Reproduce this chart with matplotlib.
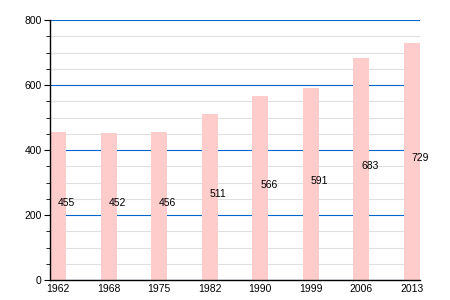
import matplotlib
matplotlib.use("Agg")
import matplotlib.pyplot as plt
from matplotlib.ticker import MultipleLocator

years = ["1962", "1968", "1975", "1982", "1990", "1999", "2006", "2013"]
population = [455, 452, 456, 511, 566, 591, 683, 729]

plt.rcParams['font.family'] = ['Liberation Sans', 'DejaVu Sans']

fig = plt.figure(figsize=(4.5, 3), dpi=100)
ax = fig.add_axes([50/450, 20/300, 370/450, 260/300])

w = 0.32
x = list(range(len(years)))
ax.bar(x, population, width=w, color='#ffcccc', zorder=2)
for xi, v in zip(x, population):
    ax.text(xi, v/2 + 10, str(v), ha='left', va='center', fontsize=7.5, color='#000000', zorder=3)

ax.set_xlim(-w/2, len(years) - 1 + w/2)
ax.set_ylim(0, 800)
ax.set_xticks(x)
ax.set_xticklabels(years, fontsize=7.5)
ax.tick_params(axis='x', length=0, pad=3)
ax.yaxis.set_major_locator(MultipleLocator(200))
ax.yaxis.set_minor_locator(MultipleLocator(50))
ax.tick_params(axis='y', which='major', length=4, labelsize=7.5, pad=2)
ax.tick_params(axis='y', which='minor', length=3)
ax.grid(axis='y', which='minor', color='#e0e0e0', linewidth=0.8, zorder=0)
ax.grid(axis='y', which='major', color='#0066cc', linewidth=0.8, zorder=1)
for s in ['top', 'right']:
    ax.spines[s].set_visible(False)
ax.spines['left'].set_linewidth(1.0)
ax.spines['bottom'].set_linewidth(1.0)
ax.spines['left'].set_zorder(4)
ax.spines['bottom'].set_zorder(4)

fig.savefig('out.png', dpi=100)
